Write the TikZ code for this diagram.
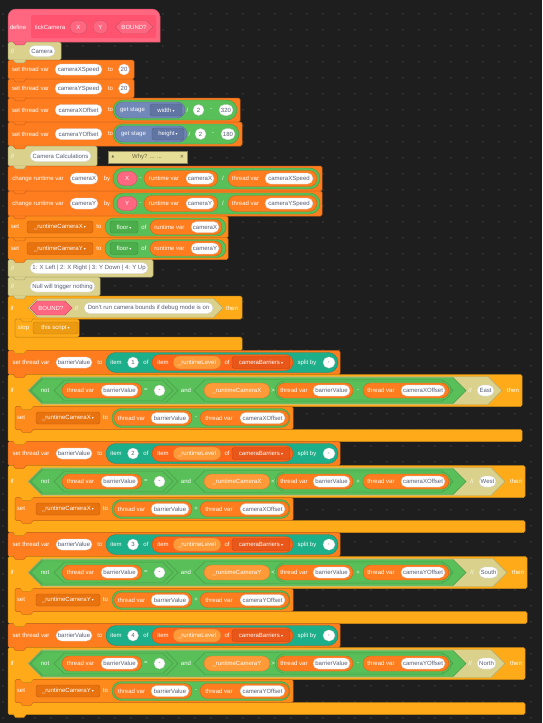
\documentclass[tikz,border=0pt]{standalone}
\usepackage{fontspec}
\setmainfont{Liberation Sans}
\newfontfamily\symfont{DejaVu Sans}
\usetikzlibrary{shapes.misc}

\definecolor{canvas}{HTML}{1E1E1E}
\definecolor{griddot}{HTML}{2E2E2E}
\definecolor{custom}{HTML}{FF6680}
\definecolor{customdark}{HTML}{FF5370}
\definecolor{note}{HTML}{DAD28C}
\definecolor{bubble}{HTML}{E6DE96}
\definecolor{bubbletext}{HTML}{6B6540}
\definecolor{tvar}{HTML}{FF7D1F}
\definecolor{var}{HTML}{FF8A1C}
\definecolor{vardrop}{HTML}{E8720E}
\definecolor{varlite}{HTML}{FF9A38}
\definecolor{listc}{HTML}{FF661A}
\definecolor{listdrop}{HTML}{E9561A}
\definecolor{ctrl}{HTML}{FFAB19}
\definecolor{ctrldark}{HTML}{EC9A12}
\definecolor{ops}{HTML}{59C059}
\definecolor{opsdark}{HTML}{4BAE4B}
\definecolor{splitc}{HTML}{1DAE8A}
\definecolor{stage}{HTML}{7288B8}
\definecolor{stagedark}{HTML}{6175A3}
\definecolor{ovaltext}{HTML}{575E75}

\newcounter{blkpart}
\newcommand\dar{\,{\symfont\fontsize{4}{4}\selectfont\char"25BE}}
\newcommand\blktext[3]{\stepcounter{blkpart}\node (t\theblkpart) at (#1,#2) {#3};}
\newcommand\blkoval[4]{\stepcounter{blkpart}\node[oval, minimum width={(#2)-(#1)}] (o\theblkpart) at ({((#1)+(#2))/2},#3) {#4};}
\newcommand\blkrep[5]{\stepcounter{blkpart}\node[pill=#5, minimum width={(#2)-(#1)}, minimum height=#4] (r\theblkpart) at ({((#1)+(#2))/2},#3) {};}
\newcommand\blkdrop[5]{\stepcounter{blkpart}\node[dropbox=#4, minimum width={(#2)-(#1)}] (d\theblkpart) at ({((#1)+(#2))/2},#3) {#5\dar};}
\newcommand\blkhex[5]{\draw[fill=#5, draw=#5!80!black, line width=.4pt] (#1,#3) -- ({(#1)+(#4)/2},{(#3)-(#4)/2}) -- ({(#2)-(#4)/2},{(#3)-(#4)/2}) -- (#2,#3) -- ({(#2)-(#4)/2},{(#3)+(#4)/2}) -- ({(#1)+(#4)/2},{(#3)+(#4)/2}) -- cycle;}
\newcommand\blkstack[5]{\draw[block=#5] (#1,#2) rectangle (#3,#4);}
\newcommand\blktab[3]{\path[fill=#3, draw=#3!80!black, line width=.5pt] ({#1},{(#2)-0.4}) -- ({(#1)+2.5},{(#2)+2.8}) -- ({(#1)+11},{(#2)+2.8}) -- ({(#1)+13.5},{(#2)-0.4});}

\begin{document}
\begin{tikzpicture}[
  x=1pt, y=-1pt,
  every node/.style={font=\fontsize{6}{7}\selectfont, text=white, inner sep=0pt},
  block/.style={fill=#1, draw=#1!80!black, line width=.5pt, rounded corners=1.5pt},
  pill/.style={rounded rectangle, fill=#1, draw=#1!80!black, line width=.4pt},
  oval/.style={rounded rectangle, fill=white, draw=black!20, line width=.3pt, text=ovaltext, minimum height=11pt, inner xsep=2pt},
  dropbox/.style={rectangle, rounded corners=2.5pt, fill=#1, draw=#1!80!black, line width=.4pt, minimum height=12pt}
]
\fill[canvas] (0,0) rectangle (542,723);
\foreach \gx in {3,19,...,541} \foreach \gy in {14,30,...,722} \fill[griddot] (\gx-0.9,\gy-0.9) rectangle (\gx+0.9,\gy+0.9);

% define hat
\path[fill=custom, draw=custom!80!black, line width=.5pt] (8,42) [rounded corners=8pt] -- (8,9) -- (160,9) -- (160,24) [sharp corners] -- (160,42) -- cycle;
\fill[customdark, rounded corners=2pt] (31,15) rectangle (156,38);
\blktext{18}{27}{define}
\blktext{50}{27}{tickCamera}
\blkrep{70}{87}{27}{13}{custom}\blktext{78.5}{27}{X}
\blkrep{93}{108}{27}{13}{custom}\blktext{100.5}{27}{Y}
\blkhex{115}{153}{27}{13}{custom}\blktext{134}{27}{BOUND?}

% comment
\blkstack{8}{42}{61}{60}{note}
\blktext{12.5}{51}{//}
\blkoval{27}{57}{51}{Camera}

% speeds
\blkstack{8}{60}{134}{79}{tvar}
\blktext{30.5}{69.5}{set thread var}
\blkoval{53}{104}{69.5}{cameraXSpeed}
\blktext{110.5}{69.5}{to}
\blkoval{117}{131}{69.5}{20}
\blkstack{8}{79}{134}{98}{tvar}
\blktext{30.5}{88.5}{set thread var}
\blkoval{53}{104}{88.5}{cameraYSpeed}
\blktext{110.5}{88.5}{to}
\blkoval{117}{131}{88.5}{20}

% offsets
\blkstack{8}{98}{240}{122}{tvar}
\blktext{30.5}{110}{set thread var}
\blkoval{53}{104}{110}{cameraXOffset}
\blktext{110.5}{110}{to}
\blkrep{113}{237}{110}{20}{ops}
\blkrep{115}{185}{110}{16}{stage}
\blktext{132.5}{110}{get stage}
\blkdrop{150}{182}{110}{stagedark}{width}
\blktext{187.5}{110}{/}
\blkoval{192}{205}{110}{2}
\blktext{211}{110}{-}
\blkoval{217}{235}{110}{320}
\blkstack{8}{122}{242}{146}{tvar}
\blktext{30.5}{134}{set thread var}
\blkoval{53}{104}{134}{cameraYOffset}
\blktext{110.5}{134}{to}
\blkrep{113}{239}{134}{20}{ops}
\blkrep{115}{187}{134}{16}{stage}
\blktext{133.5}{134}{get stage}
\blkdrop{152}{184}{134}{stagedark}{height}
\blktext{189.5}{134}{/}
\blkoval{194}{207}{134}{2}
\blktext{213}{134}{-}
\blkoval{219}{237}{134}{180}

% calculations comment and its note
\blkstack{8}{146}{97}{166}{note}
\blktext{12.5}{156}{//}
\blkoval{28}{93}{156}{Camera Calculations}
\draw[fill=bubble, draw=bubble!60!black, line width=.4pt] (108,151) rectangle (187,163);
\node[text=bubbletext] (fold) at (113,157) {\symfont\fontsize{3.5}{4}\selectfont\char"25B2};
\node[text=bubbletext] (why) at (147,157) {Why? ... ...};
\node[text=bubbletext] (close) at (182,157) {\symfont\fontsize{5}{5}\selectfont\char"2715};

% change runtime vars
\foreach \cy/\ax in {178.5/X, 203.5/Y}{
  \blkstack{8}{\cy-12.5}{322}{\cy+12.5}{tvar}
  \blktext{38}{\cy}{change runtime var}
  \blkoval{68}{100}{\cy}{camera\ax}
  \blktext{107}{\cy}{by}
  \blkrep{113}{320}{\cy}{21}{ops}
  \blkrep{117}{137}{\cy}{14}{custom}
  \blktext{127}{\cy}{\ax}
  \blktext{140.5}{\cy}{-}
  \blkrep{144}{218}{\cy}{16}{tvar}
  \blktext{164}{\cy}{runtime var}
  \blkoval{184}{216}{\cy}{camera\ax}
  \blktext{223}{\cy}{/}
  \blkrep{228}{317}{\cy}{16}{tvar}
  \blktext{245.5}{\cy}{thread var}
  \blkoval{263}{315}{\cy}{camera\ax Speed}
}

% floor
\foreach \cy/\ax in {227/X, 248.5/Y}{
  \blkstack{8}{\cy-11}{228}{\cy+11}{var}
  \blktext{15}{\cy}{set}
  \blkdrop{27}{93}{\cy}{vardrop}{\_runtimeCamera\ax}
  \blktext{99}{\cy}{to}
  \blkrep{105}{226}{\cy}{18}{ops}
  \blkdrop{110}{138}{\cy}{opsdark}{floor}
  \blktext{144}{\cy}{of}
  \blkrep{150}{222}{\cy}{15}{tvar}
  \blktext{169.5}{\cy}{runtime var}
  \blkoval{189}{221}{\cy}{camera\ax}
}

% direction comments
\blkstack{8}{259.5}{153}{277}{note}
\blktext{12.5}{268}{//}
\blkoval{28}{150}{268}{1: X Left | 2: X Right | 3: Y Down | 4: Y Up}
\blkstack{8}{277}{100}{296}{note}
\blktext{12.5}{286.5}{//}
\blkoval{28}{97}{286.5}{Null will trigger nothing}

% if BOUND?
\draw[block=ctrl] (8,296) -- (242,296) -- (242,319) -- (15,319) -- (15,337) -- (242,337) -- (242,350.5) -- (8,350.5) -- cycle;
\blktext{12}{308}{if}
\blkhex{28}{223}{308}{19}{note}
\blkhex{30}{72}{308}{14}{custom}
\blktext{51}{308}{BOUND?}
\blktext{76.5}{308}{//}
\blkoval{82}{215}{308}{Don't run camera bounds if debug mode is on}
\blktext{232}{308}{then}
\blkstack{15}{319}{79}{337}{ctrl}
\blktext{23.5}{328}{stop}
\blkdrop{33}{78}{328}{ctrldark}{this script}

% barriers
\foreach \sy/\num/\ax/\cmp/\op/\dirn/\rx/\oa/\ob in {362.5/1/X/>/-/East/522/475/496, 453.5/2/X/</+/West/525/477/498, 544.5/3/Y/</+/South/527/477/500, 635.5/4/Y/>/-/North/525/475/498}{
  \blkstack{8}{\sy-12}{340}{\sy+12}{tvar}
  \blktext{31}{\sy}{set thread var}
  \blkoval{54}{94}{\sy}{barrierValue}
  \blktext{100}{\sy}{to}
  \blkrep{106}{338}{\sy}{20}{splitc}
  \blktext{116}{\sy}{item}
  \blkoval{126}{140}{\sy}{\num}
  \blktext{146}{\sy}{of}
  \blkrep{152}{293}{\sy}{16}{listc}
  \blktext{163}{\sy}{item}
  \blkrep{173}{221}{\sy}{13}{varlite}
  \blktext{197}{\sy}{\_runtimeLevel}
  \blktext{227}{\sy}{of}
  \blkdrop{232}{290}{\sy}{listdrop}{cameraBarriers}
  \blktext{307}{\sy}{split by}
  \blkoval{321}{337}{\sy}{,}
  % if block
  \draw[block=ctrl] (8,\sy+12) -- (\rx,\sy+12) -- (\rx,\sy+44) -- (15,\sy+44) -- (15,\sy+67) -- (\rx,\sy+67) -- (\rx,\sy+79) -- (8,\sy+79) -- cycle;
  \blktext{12}{\sy+28}{if}
  \blkhex{28}{\rx-20}{\sy+28}{28}{note}
  \blkhex{29}{466}{\sy+28}{26}{ops}
  \blkhex{31}{178}{\sy+28}{23}{ops}
  \blktext{45}{\sy+28}{not}
  \blkhex{54}{173}{\sy+28}{20}{ops}
  \blkrep{62}{142}{\sy+28}{15}{tvar}
  \blktext{80.5}{\sy+28}{thread var}
  \blkoval{99}{140}{\sy+28}{barrierValue}
  \blktext{146}{\sy+28}{=}
  \blkoval{152}{167}{\sy+28}{-}
  \blktext{186}{\sy+28}{and}
  \blkhex{194}{453}{\sy+28}{22}{ops}
  \blkrep{204}{270}{\sy+28}{15}{varlite}
  \blktext{237}{\sy+28}{\_runtimeCamera\ax}
  \blktext{273}{\sy+28}{\cmp}
  \blkrep{275}{451}{\sy+28}{19}{ops}
  \blkrep{277}{353}{\sy+28}{15}{tvar}
  \blktext{294}{\sy+28}{thread var}
  \blkoval{311}{352}{\sy+28}{barrierValue}
  \blktext{358}{\sy+28}{\op}
  \blkrep{363}{449}{\sy+28}{15}{tvar}
  \blktext{381}{\sy+28}{thread var}
  \blkoval{399}{447}{\sy+28}{camera\ax Offset}
  \blktext{\oa-5}{\sy+28}{//}
  \blkoval{\oa}{\ob}{\sy+28}{\dirn}
  \blktext{\rx-9}{\sy+28}{then}
  % inner set
  \blkstack{15}{\sy+44}{293}{\sy+67}{var}
  \blktext{21}{\sy+55.5}{set}
  \blkdrop{36}{100}{\sy+55.5}{vardrop}{\_runtimeCamera\ax}
  \blktext{105.5}{\sy+55.5}{to}
  \blkrep{112}{290}{\sy+55.5}{19}{ops}
  \blkrep{114}{192}{\sy+55.5}{15}{tvar}
  \blktext{131.5}{\sy+55.5}{thread var}
  \blkoval{149}{191}{\sy+55.5}{barrierValue}
  \blktext{196}{\sy+55.5}{\op}
  \blkrep{200}{289}{\sy+55.5}{15}{tvar}
  \blktext{219}{\sy+55.5}{thread var}
  \blkoval{238}{287}{\sy+55.5}{camera\ax Offset}
}

% notch tabs
\foreach \tx/\ty/\tc in {13/42/custom, 13/60/note, 13/79/tvar, 13/98/tvar, 13/122/tvar, 13/146/tvar, 13/166/note, 13/191/tvar, 13/216/tvar, 13/238/var, 13/259.5/var, 13/277/note, 13/296/note, 20/319/ctrl, 13/350.5/ctrl}{
  \blktab{\tx}{\ty}{\tc}
}
\foreach \sy in {362.5, 453.5, 544.5, 635.5}{
  \blktab{13}{\sy+12}{tvar}
  \blktab{20}{\sy+44}{ctrl}
  \blktab{20}{\sy+67}{var}
  \blktab{13}{\sy+79}{ctrl}
}
\end{tikzpicture}
\end{document}
